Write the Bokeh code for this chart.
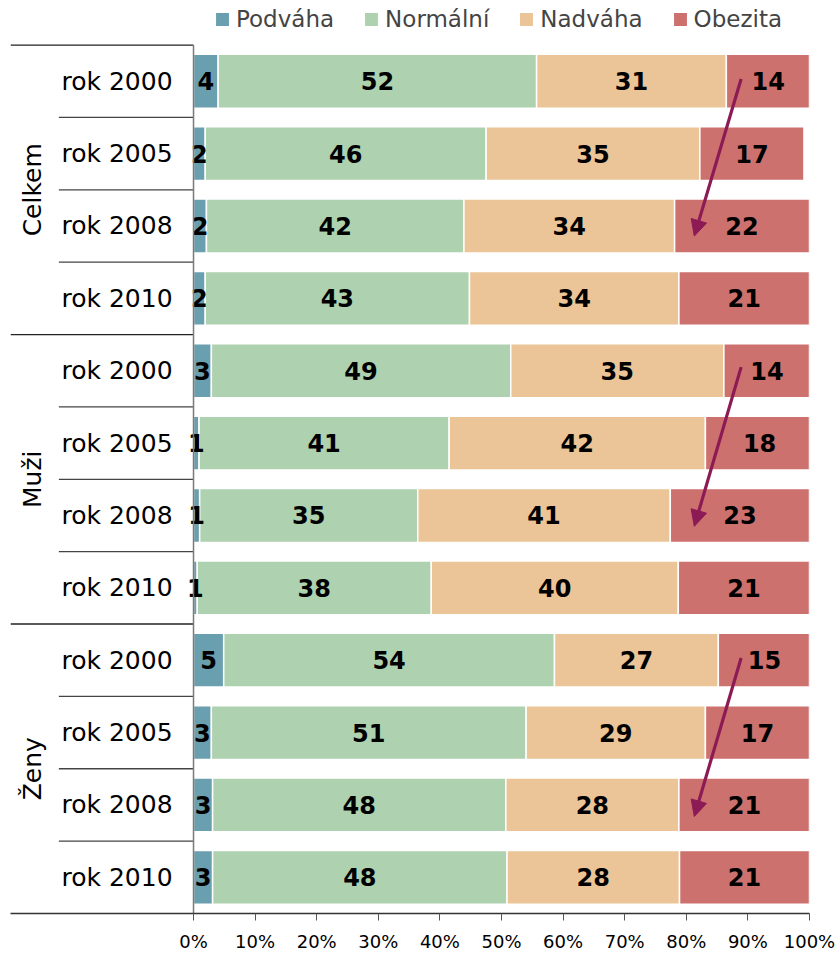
import numpy as np
from bokeh.plotting import figure
from bokeh.models import (ColumnDataSource, Range1d, FixedTicker, Legend, LegendItem,
                          Arrow, NormalHead)
from bokeh.core.properties import value
from bokeh.embed import file_html
from bokeh.resources import INLINE

# ---------------- data ----------------
groups = ["Celkem", "Muži", "Ženy"]
years = ["rok 2000", "rok 2005", "rok 2008", "rok 2010"]
series_names = ["Podváha", "Normální", "Nadváha", "Obezita"]

podvaha = [4.0, 1.9, 2.1, 1.9, 2.9, 0.9, 1.0, 0.6, 4.9, 2.9, 3.1, 3.1]
normalni = [51.7, 45.6, 41.8, 42.9, 48.6, 40.6, 35.4, 38.0, 53.7, 51.1, 47.6, 47.8]
nadvaha = [30.8, 34.7, 34.2, 34.0, 34.6, 41.6, 41.0, 40.1, 26.6, 29.1, 28.1, 28.0]
obezita = [13.6, 16.9, 21.9, 21.2, 14.0, 17.6, 22.6, 21.3, 15.0, 16.9, 21.3, 21.1]

ticks = [0, 10, 20, 30, 40, 50, 60, 70, 80, 90, 100]
tick_labels = ["0%", "10%", "20%", "30%", "40%", "50%", "60%", "70%", "80%", "90%", "100%"]

# arrows (trend of obesity), one per group: start/end in % and row offset within group
arrow_x_start = [88.9, 88.9, 88.9]
arrow_x_end = [81.3, 81.3, 81.3]
arrow_row_start = [0.47, 0.45, 0.47]
arrow_row_end = [2.64, 2.65, 2.66]

# ---------------- styles ----------------
colors = ["#6A9FAF", "#AED1B0", "#EBC497", "#CD716E"]
arrow_color = "#8C1A55"
FONT = "DejaVu Sans"

n_rows = len(groups) * len(years)
rows = [i + 0.5 for i in range(n_rows)]

series = [podvaha, normalni, nadvaha, obezita]
src = ColumnDataSource(dict(y=rows, **{name: vals for name, vals in zip(series_names, series)}))

X0 = -29.71
W, H = 838, 954
BOTTOM = 38
p = figure(width=W, height=H, output_backend="svg", toolbar_location=None,
           x_range=Range1d(X0, 100), y_range=Range1d(12, -0.6156),
           min_border_left=10, min_border_right=29, min_border_top=0, min_border_bottom=BOTTOM,
           y_axis_location=None)
p.outline_line_color = None
p.xgrid.visible = False
p.ygrid.visible = False

renderers = p.hbar_stack(series_names, y="y", height=0.744, color=colors,
                         line_color="white", line_width=1.5, source=src)

# bar labels
lx, ly, lt = [], [], []
cum = np.zeros(n_rows)
for vals in series:
    v = np.array(vals)
    centers = cum + v / 2
    for i in range(n_rows):
        lx.append(centers[i])
        ly.append(rows[i])
        lt.append(f"{vals[i]:.0f}")
    cum = cum + v
p.text(x="x", y="y", text="t", source=ColumnDataSource(dict(x=lx, y=ly, t=lt)),
       text_align="center", text_baseline="middle", text_font=value(FONT),
       text_font_style="bold", text_font_size="24px", text_color="black")

# category (year) labels
year_labels = [years[i % len(years)] for i in range(n_rows)]
p.text(x=[-3.4] * n_rows, y=rows, text=year_labels, text_align="right",
       text_baseline="middle", text_font=value(FONT), text_font_size="25px",
       text_color="black")

# group labels (rotated)
gy = [len(years) * g + len(years) / 2 for g in range(len(groups))]
p.text(x=[-26.2] * len(groups), y=gy, text=groups, angle=np.pi / 2,
       text_align="center", text_baseline="middle", text_font=value(FONT),
       text_font_size="25px", text_color="black")

# separator lines on the category side
gl_y = [len(years) * g for g in range(len(groups))]
p.segment(x0=[X0] * len(gl_y), y0=gl_y, x1=[0] * len(gl_y), y1=gl_y,
          line_color="#222222", line_width=1.3)
rl_y = [i for i in range(1, n_rows) if i % len(years) != 0]
p.segment(x0=[-21.86] * len(rl_y), y0=rl_y, x1=[0] * len(rl_y), y1=rl_y,
          line_color="#444444", line_width=1.3)
# value axis line
p.segment(x0=[0], y0=[0], x1=[0], y1=[n_rows], line_color="#7a7a7a", line_width=1.5)

# arrows
gs = [len(years) * g for g in range(len(groups))]
asrc = ColumnDataSource(dict(
    xs=arrow_x_start, xe=arrow_x_end,
    ys=[g + r for g, r in zip(gs, arrow_row_start)],
    ye=[g + r for g, r in zip(gs, arrow_row_end)]))
p.add_layout(Arrow(end=NormalHead(size=16, fill_color=arrow_color, line_color=arrow_color),
                   x_start="xs", y_start="ys", x_end="xe", y_end="ye", source=asrc,
                   line_color=arrow_color, line_width=3.2))

# x axis
ax = p.xaxis[0]
ax.ticker = FixedTicker(ticks=ticks)
ax.major_label_overrides = {t: l for t, l in zip(ticks, tick_labels)}
ax.major_tick_in = 0
ax.major_tick_out = 7
ax.minor_tick_line_color = None
ax.major_tick_line_color = "#555555"
ax.axis_line_color = "#333333"
ax.axis_line_width = 1.3
ax.major_label_text_font = FONT
ax.major_label_text_font_size = "18px"
ax.major_label_text_color = "black"
ax.major_label_standoff = 10

# legend
frame_h = H - BOTTOM
legend = Legend(items=[LegendItem(label=n, renderers=[r]) for n, r in zip(series_names, renderers)],
                orientation="horizontal", location=(203, frame_h - 35),
                glyph_width=18, glyph_height=18, label_standoff=5, spacing=28,
                padding=0, margin=0, border_line_alpha=0, background_fill_alpha=0,
                label_text_font=FONT, label_text_font_size="23px")
p.add_layout(legend)

open("out.html", "w").write(file_html(p, INLINE))
